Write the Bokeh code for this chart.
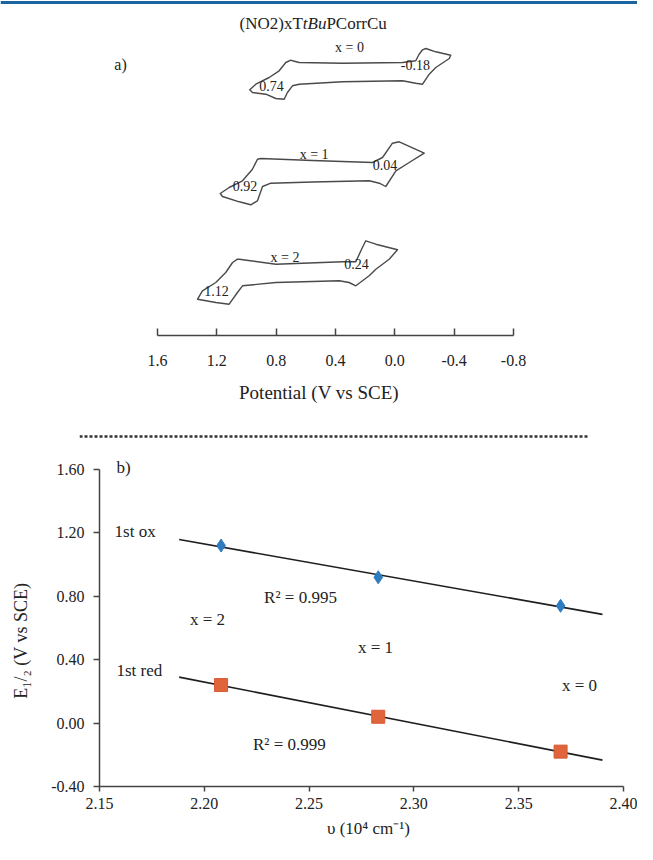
import numpy as np
from bokeh.plotting import figure
from bokeh.models import Range1d, FixedTicker, NumeralTickFormatter, Span, ColumnDataSource
from bokeh.core.properties import value
from bokeh.embed import file_html
from bokeh.resources import INLINE

SERIF = "Liberation Serif"
INK = "#222222"
AXIS = "#444444"

# ---------------- panel a) : cyclic voltammograms ----------------
# potential (V vs SCE) and current (arbitrary units, relative to trace baseline)
cv0_E = [0.690, 0.645, 0.353, -0.052, -0.141, -0.164, -0.187, -0.209, -0.276, -0.377, -0.367,
         -0.276, -0.232, -0.187, -0.141, -0.052, 0.353, 0.645, 0.690, 0.724, 0.746, 0.802,
         0.870, 0.960, 0.978, 0.937, 0.847, 0.780, 0.735, 0.701, 0.690]
cv0_I = [11.7, 10.0, 9.3, 10.0, 11.7, 18.3, 22.7, 24.0, 20.7, 17.3, 14.0,
         5.0, -1.7, -11.7, -10.7, -8.3, -9.3, -11.7, -13.3, -20.0, -26.7, -26.0,
         -21.7, -20.0, -17.3, -11.7, -5.0, 1.7, 10.0, 12.3, 11.7]

cv1_E = [0.904, 0.555, 0.150, 0.083, 0.016, -0.030, -0.198, -0.097, -0.007, 0.061, 0.105,
         0.173, 0.555, 0.836, 0.892, 0.926, 0.971, 1.049, 1.162, 1.177, 1.117, 1.027,
         0.960, 0.926, 0.904]
cv1_I = [14.0, 12.0, 10.0, 15.0, 29.3, 30.7, 19.3, 10.0, 1.7, -14.0, -10.7,
         -8.3, -9.5, -10.7, -14.0, -28.3, -32.3, -29.3, -24.0, -21.0, -15.0, -8.3,
         3.3, 13.3, 14.0]

cv2_E = [1.049, 0.802, 0.353, 0.263, 0.229, 0.196, 0.128, -0.018, 0.038, 0.128, 0.173,
         0.263, 0.308, 0.375, 0.802, 1.027, 1.061, 1.117, 1.207, 1.330, 1.297, 1.207,
         1.140, 1.094, 1.061, 1.049]
cv2_I = [13.3, 8.3, 10.7, 10.7, 21.7, 31.7, 28.3, 22.7, 13.3, 3.3, -3.3,
         -13.3, -10.0, -8.3, -10.0, -13.3, -20.0, -31.7, -30.0, -26.7, -18.3, -10.0,
         0.0, 10.0, 13.3, 13.3]

cv_offsets = [263, 163, 63]          # vertical stacking of the three traces
cv_names = ["x = 0", "x = 1", "x = 2"]
cv_name_E = [0.306, 0.544, 0.740]
cv_name_I = [25, 18, 15]

peak_text = ["0.74", "-0.18", "0.92", "0.04", "1.12", "0.24"]
peak_E = [0.831, -0.139, 1.010, 0.066, 1.202, 0.258]
peak_trace = [0, 0, 1, 1, 2, 2]
peak_I = [-13.3, 8.0, -13.3, 7.3, -18.3, 8.7]

pot_ticks = [1.6, 1.2, 0.8, 0.4, 0.0, -0.4, -0.8]

# ---------------- panel b) : E1/2 vs wavenumber ----------------
nu = [2.208, 2.283, 2.370]            # 10^4 cm-1
e_ox = [1.12, 0.92, 0.74]             # 1st oxidation, V vs SCE
e_red = [0.24, 0.04, -0.18]           # 1st reduction, V vs SCE
series_x = ["x = 2", "x = 1", "x = 0"]
fit_span = [2.188, 2.390]
nu_ticks = [2.15, 2.20, 2.25, 2.30, 2.35, 2.40]
e_ticks = [-0.40, 0.00, 0.40, 0.80, 1.20, 1.60]


def add_text(p, xs, ys, texts, size, align="center", style="normal", color=INK):
    src = ColumnDataSource(dict(x=xs, y=ys, t=texts))
    p.text("x", "y", text="t", source=src, text_font=value(SERIF),
           text_font_size=value(f"{size}px"), text_align=align,
           text_baseline="middle", text_font_style=style, text_color=color)


W = 637

# ---------- top figure ----------
p1 = figure(width=W, height=420, output_backend="svg", toolbar_location=None,
            x_range=Range1d(2.6585, -1.636), y_range=Range1d(0, 335),
            y_axis_type=None, min_border_left=0, min_border_right=0,
            min_border_top=0, min_border_bottom=85)
p1.outline_line_color = None
p1.grid.visible = False

p1.add_layout(Span(location=333, dimension="width", line_color="#1a64a0", line_width=3))

for E, I, off in zip([cv0_E, cv1_E, cv2_E], [cv0_I, cv1_I, cv2_I], cv_offsets):
    p1.line(E, [off + i for i in I], line_color="#4a4a4a", line_width=1.4, line_join="round")

add_text(p1, cv_name_E, [o + d for o, d in zip(cv_offsets, cv_name_I)], cv_names, 14)
add_text(p1, peak_E, [cv_offsets[t] + i for t, i in zip(peak_trace, peak_I)], peak_text, 14)

# title with italic tBu
add_text(p1, [0.6204], [312], ["(NO2)xT"], 17, align="right")
add_text(p1, [0.5408], [312], ["tBu"], 17, align="center", style="italic")
add_text(p1, [0.4613], [312], ["PCorrCu"], 17, align="left")
add_text(p1, [1.849], [271], ["a)"], 16)

ax1 = p1.xaxis[0]
ax1.bounds = (-0.8, 1.6)
ax1.ticker = FixedTicker(ticks=pot_ticks)
ax1.formatter = NumeralTickFormatter(format="0.0")
ax1.major_tick_in = 7
ax1.major_tick_out = 0
ax1.minor_tick_line_color = None
ax1.axis_line_color = AXIS
ax1.axis_line_width = 1.5
ax1.major_tick_line_color = AXIS
ax1.major_tick_line_width = 1.5
ax1.major_label_text_font = SERIF
ax1.major_label_text_font_size = "16px"
ax1.major_label_text_color = INK
ax1.major_label_standoff = 19
ax1.axis_label = "Potential (V vs SCE)"
ax1.axis_label_text_font = SERIF
ax1.axis_label_text_font_size = "19px"
ax1.axis_label_text_font_style = "normal"
ax1.axis_label_text_color = INK
ax1.axis_label_standoff = 13

# ---------- separator ----------
p_sep = figure(width=W, height=34, output_backend="svg", toolbar_location=None,
               x_range=Range1d(0, 1), y_range=Range1d(0, 34),
               x_axis_type=None, y_axis_type=None,
               min_border_left=79, min_border_right=49, min_border_top=0, min_border_bottom=0)
p_sep.outline_line_color = None
p_sep.grid.visible = False
p_sep.add_layout(Span(location=18, dimension="width", line_color="#333333",
                      line_width=2.5, line_dash="3 2"))

# ---------- bottom figure ----------
p2 = figure(width=W, height=390, output_backend="svg", toolbar_location=None,
            x_range=Range1d(2.15, 2.4067), y_range=Range1d(-0.40, 1.6946),
            min_border_left=99, min_border_right=0, min_border_top=0, min_border_bottom=58)
p2.outline_line_color = None
p2.grid.visible = False

for ys in (e_ox, e_red):
    k, b = np.polyfit(nu, ys, 1)
    p2.line(fit_span, [k * x + b for x in fit_span], line_color="#1e1e1e", line_width=1.6)

p2.scatter(nu, e_ox, marker="diamond", size=13, fill_color="#2e7cc0", line_color="#2e7cc0")
p2.scatter(nu, e_red, marker="square", size=13, fill_color="#e0653c", line_color="#d85a33")

add_text(p2, [2.1615], [1.6126], ["b)"], 17)
add_text(p2, [2.1572], [1.2088], ["1st ox"], 17, align="left")
add_text(p2, [2.1581], [0.3319], ["1st red"], 17, align="left")
add_text(p2, [2.2459], [0.7924], ["R\u00b2 = 0.995"], 17)
add_text(p2, [2.2406], [-0.135], ["R\u00b2 = 0.999"], 17)
add_text(p2, [2.2015, 2.2817, 2.3790], [0.6536, 0.4770, 0.2372], series_x, 17)

for ax in (p2.xaxis[0], p2.yaxis[0]):
    ax.minor_tick_line_color = None
    ax.axis_line_color = AXIS
    ax.axis_line_width = 1.5
    ax.major_tick_line_color = AXIS
    ax.major_tick_line_width = 1.5
    ax.major_tick_in = 0
    ax.major_label_text_font = SERIF
    ax.major_label_text_font_size = "16px"
    ax.major_label_text_color = INK
    ax.formatter = NumeralTickFormatter(format="0.00")
    ax.axis_label_text_font = SERIF
    ax.axis_label_text_font_style = "normal"
    ax.axis_label_text_color = INK

xa = p2.xaxis[0]
xa.bounds = (2.15, 2.40)
xa.ticker = FixedTicker(ticks=nu_ticks)
xa.major_tick_out = 5
xa.major_label_standoff = 6
xa.axis_label = "\u03c5 (10\u2074 cm\u207b\u00b9)"
xa.axis_label_text_font_size = "17px"
xa.axis_label_standoff = 7

ya = p2.yaxis[0]
ya.bounds = (-0.40, 1.60)
ya.ticker = FixedTicker(ticks=e_ticks)
ya.major_tick_out = 6
ya.major_label_standoff = 9
ya.axis_label = "E\u2081/\u2082 (V vs SCE)" + "\u00a0" * 9
ya.axis_label_text_font_size = "18px"
ya.axis_label_standoff = 17

open("out.html", "w").write(file_html([p1, p_sep, p2], INLINE))
